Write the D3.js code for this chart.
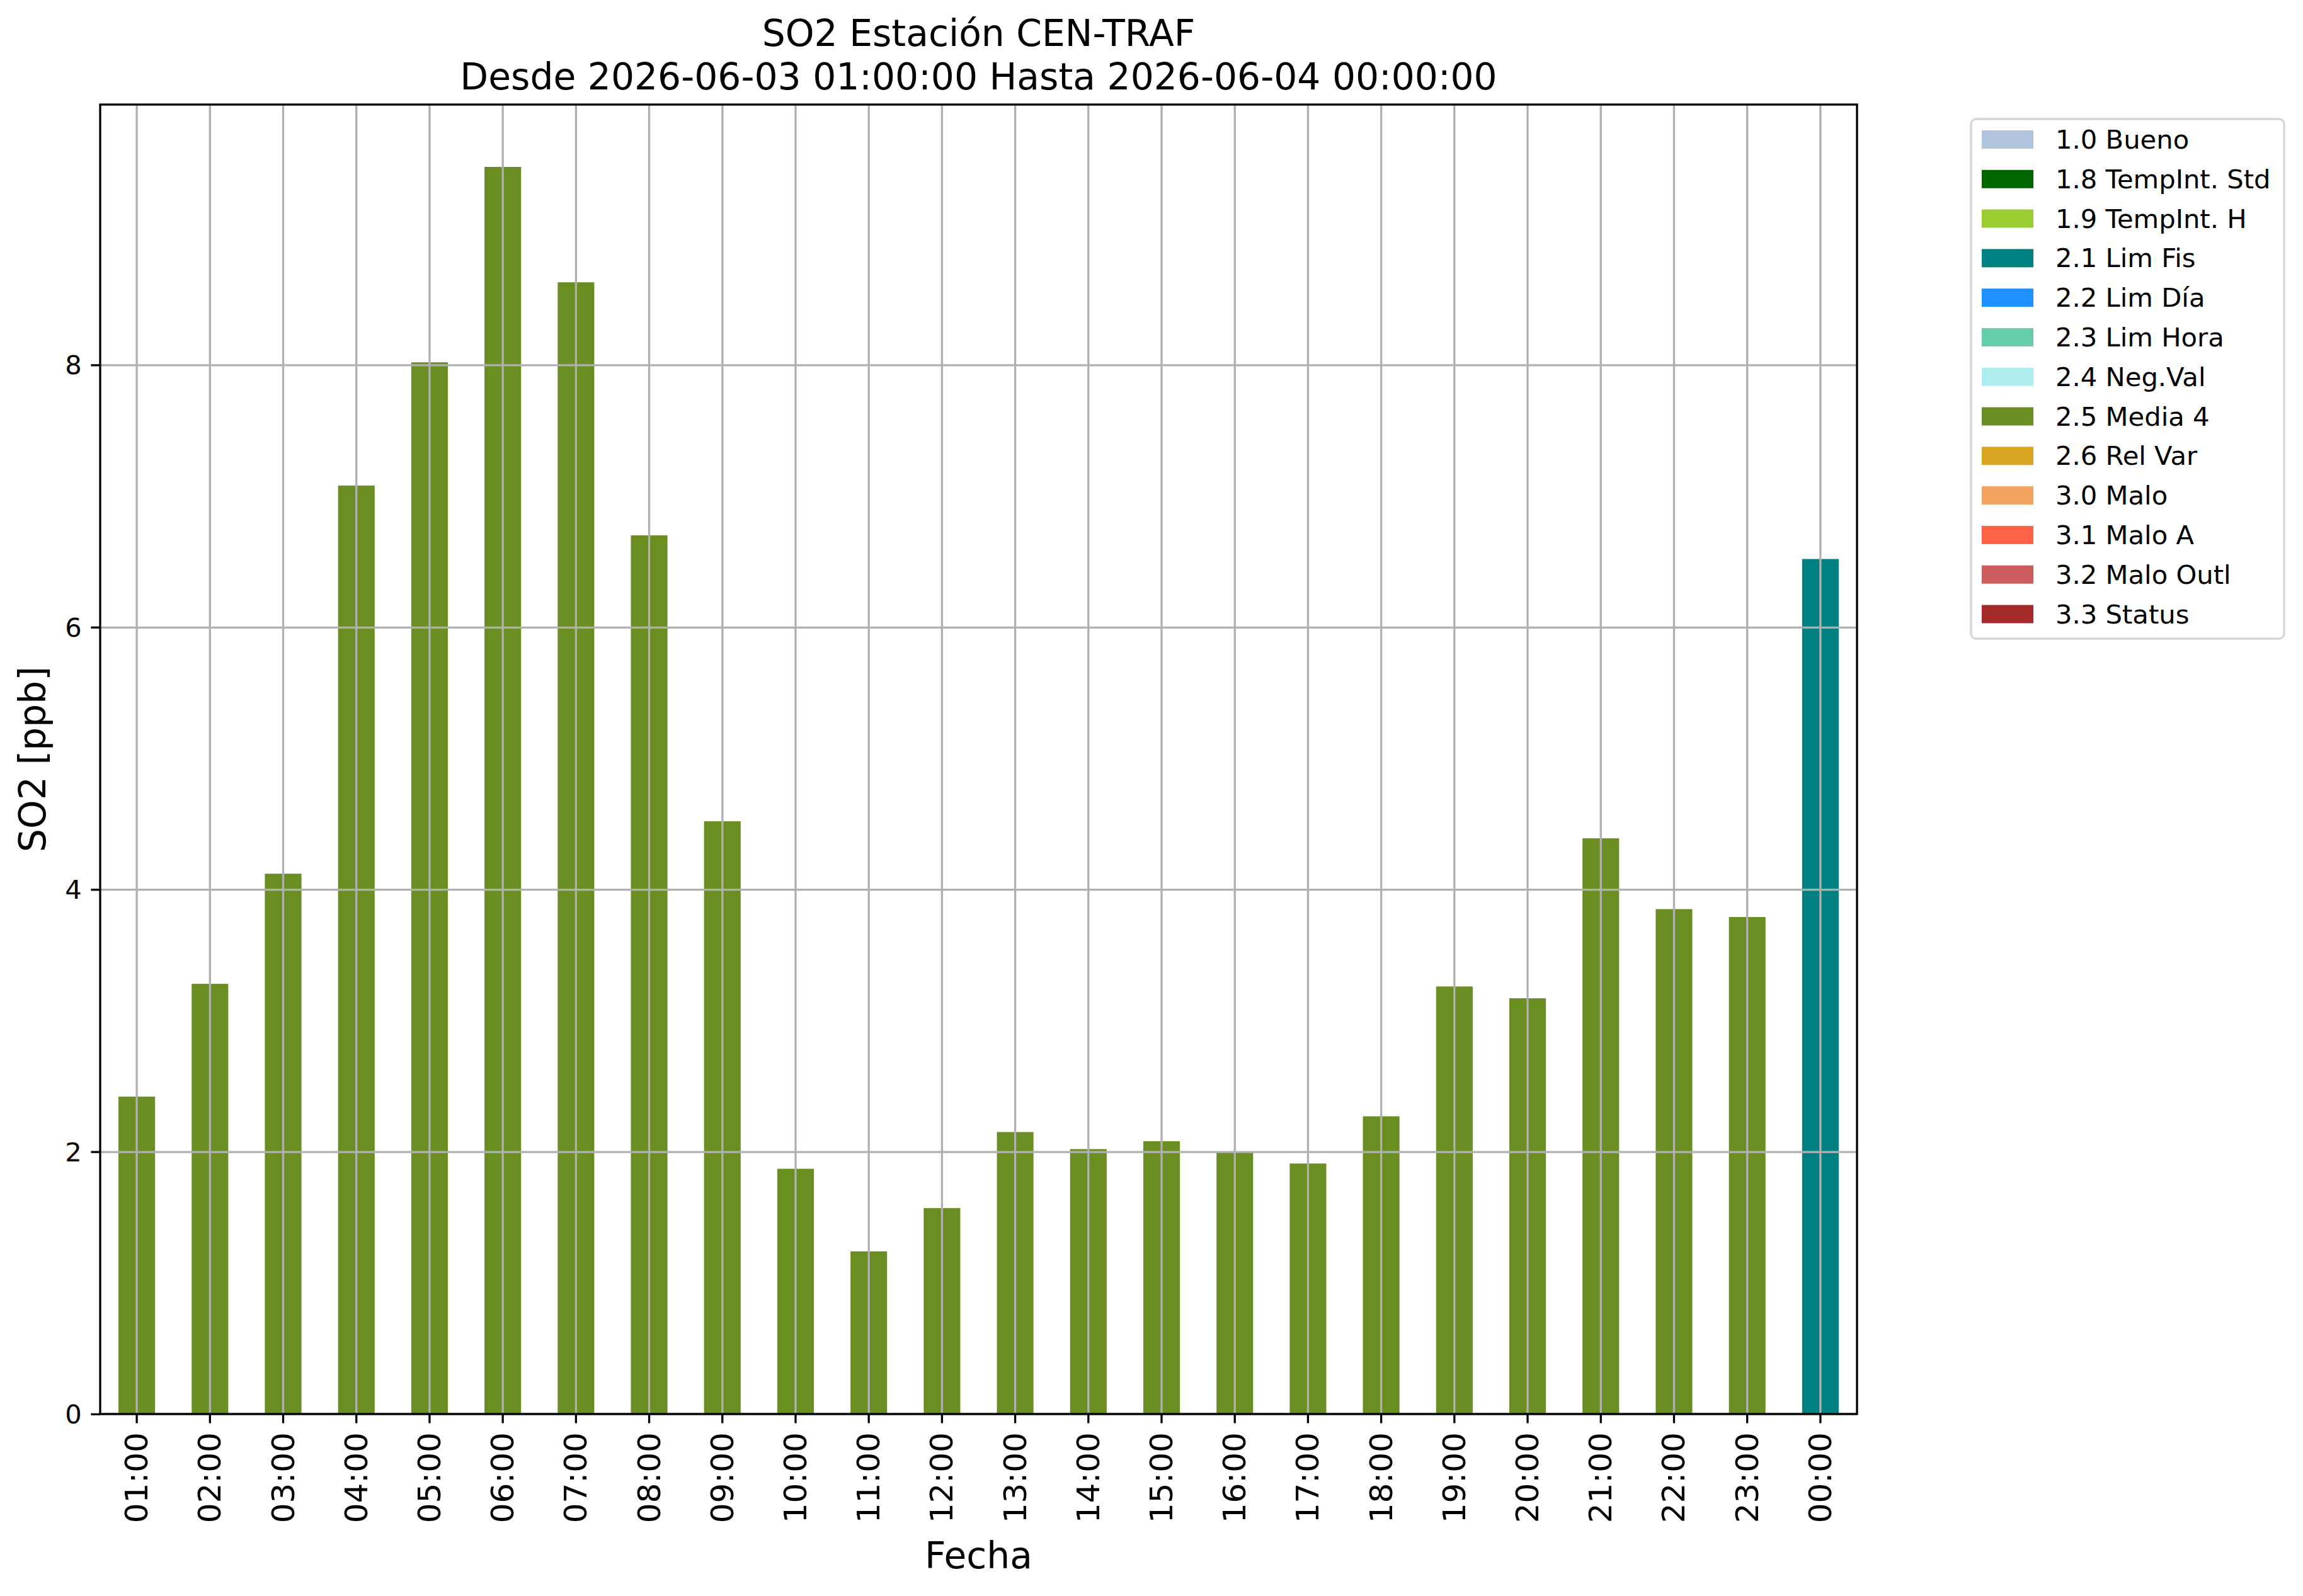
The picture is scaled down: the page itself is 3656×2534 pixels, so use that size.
<!DOCTYPE html>
<html>
<head>
<meta charset="utf-8">
<script src="https://cdn.jsdelivr.net/npm/d3@7"></script>
<style>
  body { margin: 0; background: #fff; }
  text { font-family: "DejaVu Sans", sans-serif; fill: #000; }
</style>
</head>
<body>
<div id="chartDiv"></div>
<script>
// hourly SO2 values, 2026-06-03 01:00 .. 2026-06-04 00:00
let hours = ["01:00","02:00","03:00","04:00","05:00","06:00","07:00","08:00","09:00","10:00","11:00","12:00",
             "13:00","14:00","15:00","16:00","17:00","18:00","19:00","20:00","21:00","22:00","23:00","00:00"];
let so2 = [2.42, 3.28, 4.12, 7.08, 8.02, 9.51, 8.63, 6.70, 4.52, 1.87, 1.24, 1.57,
           2.15, 2.02, 2.08, 2.00, 1.91, 2.27, 3.26, 3.17, 4.39, 3.85, 3.79, 6.52];
let flags = ["2.5 Media 4","2.5 Media 4","2.5 Media 4","2.5 Media 4","2.5 Media 4","2.5 Media 4",
             "2.5 Media 4","2.5 Media 4","2.5 Media 4","2.5 Media 4","2.5 Media 4","2.5 Media 4",
             "2.5 Media 4","2.5 Media 4","2.5 Media 4","2.5 Media 4","2.5 Media 4","2.5 Media 4",
             "2.5 Media 4","2.5 Media 4","2.5 Media 4","2.5 Media 4","2.5 Media 4","2.1 Lim Fis"];

// legend categories
let flagNames = ["1.0 Bueno","1.8 TempInt. Std","1.9 TempInt. H","2.1 Lim Fis","2.2 Lim Día","2.3 Lim Hora",
                 "2.4 Neg.Val","2.5 Media 4","2.6 Rel Var","3.0 Malo","3.1 Malo A","3.2 Malo Outl","3.3 Status"];
let flagColors = ["#b0c4de","#006400","#9acd32","#008080","#1e90ff","#66cdaa",
                  "#afeeee","#6b8e23","#daa520","#f4a460","#ff6347","#cd5c5c","#a52a2a"];
let yTicks = [0, 2, 4, 6, 8];

let W = 3656, H = 2534;
let axLeft = 159, axRight = 2948, axTop = 166, axBottom = 2245;
let lw = 3.3, tickLen = 14.6;

let svg = d3.select("#chartDiv").append("svg")
    .attr("width", W).attr("height", H);

let data = hours.map(function(h, i){ return {hour: h, value: so2[i], flag: flags[i]}; });

let xScale = d3.scaleBand()
    .domain(hours)
    .range([axLeft, axRight])
    .paddingInner(0.5)
    .paddingOuter(0.25);

let yScale = d3.scaleLinear()
    .domain([0, d3.max(so2) * 1.05])
    .range([axBottom, axTop]);

let color = d3.scaleOrdinal(flagNames, flagColors);

// bars
svg.append("g").selectAll("rect")
    .data(data)
    .enter().append("rect")
    .attr("x", function(d){ return xScale(d.hour); })
    .attr("y", function(d){ return yScale(d.value); })
    .attr("width", xScale.bandwidth())
    .attr("height", function(d){ return yScale(0) - yScale(d.value); })
    .attr("fill", function(d){ return color(d.flag); });

// grid over the bars, like the original
let xGrid = d3.axisBottom(xScale).tickSize(-(axBottom - axTop)).tickFormat("");
svg.append("g")
    .attr("transform", "translate(0," + axBottom + ")")
    .call(xGrid)
    .call(function(g){ g.select(".domain").remove(); })
    .selectAll("line").attr("stroke", "#b0b0b0").attr("stroke-width", lw);

let yGrid = d3.axisLeft(yScale).tickValues(yTicks).tickSize(-(axRight - axLeft)).tickFormat("");
svg.append("g")
    .attr("transform", "translate(" + axLeft + ",0)")
    .call(yGrid)
    .call(function(g){ g.select(".domain").remove(); })
    .selectAll("line").attr("stroke", "#b0b0b0").attr("stroke-width", lw);

// axes
let xAxis = d3.axisBottom(xScale).tickSize(tickLen).tickPadding(tickLen);
let xAxisG = svg.append("g")
    .attr("transform", "translate(0," + axBottom + ")")
    .call(xAxis);
xAxisG.select(".domain").remove();
xAxisG.selectAll("line").attr("stroke", "#000").attr("stroke-width", lw);
xAxisG.selectAll("text")
    .attr("font-size", 50)
    .attr("font-family", "DejaVu Sans")
    .attr("text-anchor", "end")
    .attr("dy", null)
    .attr("dominant-baseline", "central")
    .attr("transform", "translate(0," + (2 * tickLen) + ") rotate(-90)")
    .attr("y", 0).attr("x", 0);

let yAxis = d3.axisLeft(yScale).tickValues(yTicks).tickSize(tickLen).tickPadding(tickLen);
let yAxisG = svg.append("g")
    .attr("transform", "translate(" + axLeft + ",0)")
    .call(yAxis);
yAxisG.select(".domain").remove();
yAxisG.selectAll("line").attr("stroke", "#000").attr("stroke-width", lw);
yAxisG.selectAll("text")
    .attr("font-size", 41.7)
    .attr("font-family", "DejaVu Sans")
    .attr("dy", null)
    .attr("dominant-baseline", "central");

// frame
svg.append("rect")
    .attr("x", axLeft).attr("y", axTop)
    .attr("width", axRight - axLeft).attr("height", axBottom - axTop)
    .attr("fill", "none").attr("stroke", "#000").attr("stroke-width", lw);

// titles and labels
let cx = (axLeft + axRight) / 2;
svg.append("text").attr("x", cx).attr("y", 73)
    .attr("text-anchor", "middle").attr("font-size", 58.3)
    .text("SO2 Estación CEN-TRAF");
svg.append("text").attr("x", cx).attr("y", 142)
    .attr("text-anchor", "middle").attr("font-size", 58.3)
    .text("Desde 2026-06-03 01:00:00 Hasta 2026-06-04 00:00:00");

svg.append("text").attr("x", cx).attr("y", 2490)
    .attr("text-anchor", "middle").attr("font-size", 58.3)
    .text("Fecha");

svg.append("text")
    .attr("transform", "translate(72," + ((axTop + axBottom) / 2) + ") rotate(-90)")
    .attr("text-anchor", "middle").attr("font-size", 58.3)
    .text("SO2 [ppb]");

// legend
let legendG = svg.append("g");
legendG.append("rect")
    .attr("x", 3129).attr("y", 189)
    .attr("width", 3626 - 3129).attr("height", 1014 - 189)
    .attr("rx", 8).attr("ry", 8)
    .attr("fill", "#fff").attr("fill-opacity", 0.8)
    .attr("stroke", "#d6d6d6").attr("stroke-width", lw);

let legendY = d3.scalePoint().domain(flagNames).range([221.5, 975]);

let entries = legendG.selectAll(".entry")
    .data(flagNames)
    .enter().append("g")
    .attr("class", "entry")
    .attr("transform", function(d){ return "translate(0," + legendY(d) + ")"; });

entries.append("rect")
    .attr("x", 3146).attr("y", -14.5)
    .attr("width", 82).attr("height", 29)
    .attr("fill", function(d){ return color(d); });

entries.append("text")
    .attr("x", 3263).attr("y", 0)
    .attr("dominant-baseline", "central")
    .attr("font-size", 41.7)
    .text(function(d){ return d; });
</script>
</body>
</html>
